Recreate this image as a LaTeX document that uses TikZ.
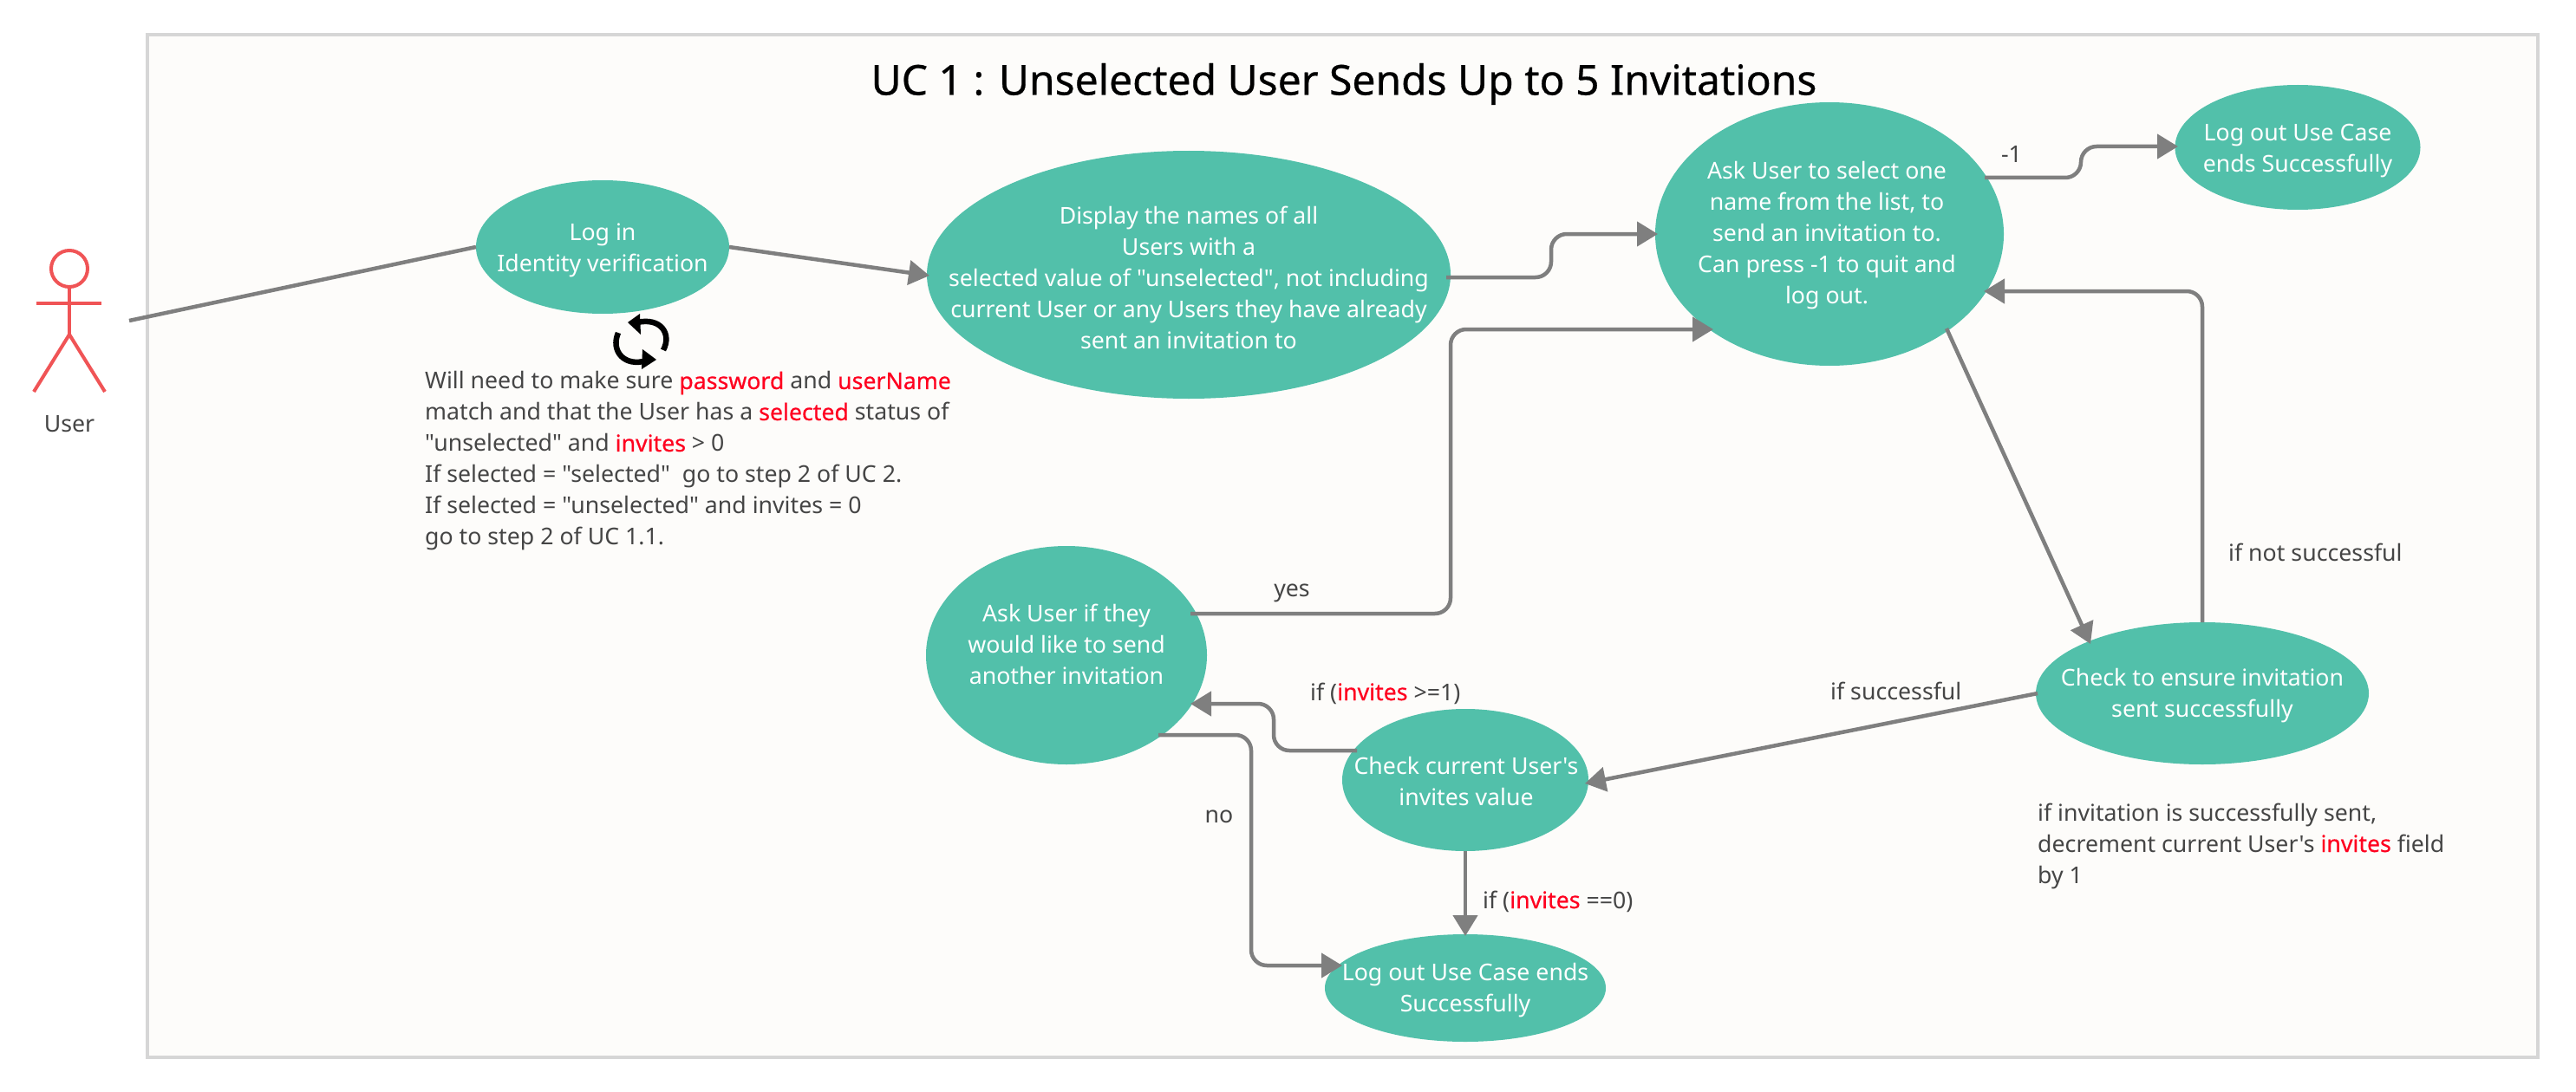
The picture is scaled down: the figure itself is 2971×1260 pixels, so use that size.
\documentclass[tikz,border=0pt]{standalone}
\usepackage{fontspec}
\usepackage{xcolor}
\setmainfont{Noto Sans}[Ligatures=TeXOff]
\newfontfamily\heavyfont{Noto Sans}[Ligatures=TeXOff,FakeBold=0.5]
\usetikzlibrary{shapes.geometric,arrows.meta,calc}
\definecolor{teal0}{HTML}{52C0AA}
\definecolor{wire}{HTML}{7F7F7F}
\definecolor{ink}{HTML}{454545}
\definecolor{alert}{HTML}{FF001F}
\definecolor{actor}{HTML}{F05456}
\definecolor{frame0}{HTML}{D6D6D6}
\definecolor{paper}{HTML}{FDFCFA}
\newcommand{\rd}[1]{\textcolor{alert}{\heavyfont #1}}
\tikzset{
  ell/.style={ellipse,fill=teal0,draw=none,inner sep=0pt,outer sep=0pt},
  elltext/.style={text=white,align=center,inner sep=0pt,font=\fontsize{26.7pt}{36pt}\selectfont},
  lbl/.style={text=ink,inner sep=0pt,font=\fontsize{26.7pt}{36pt}\selectfont},
  note/.style={text=ink,align=left,inner sep=0pt,anchor=west,font=\fontsize{26.7pt}{36pt}\selectfont},
  wireln/.style={draw=wire,line width=4.5pt},
  conn/.style={wireln,rounded corners=18pt,-{Triangle[length=24pt,width=28pt]}},
  straight/.style={wireln,-{Triangle[length=24pt,width=28pt]}},
  actorln/.style={draw=actor,line width=4pt},
}
\begin{document}
\begin{tikzpicture}[x=1pt,y=-1pt]
\useasboundingbox (0,0) rectangle (2971,1260);
\fill[white] (0,0) rectangle (2971,1260);
\draw[draw=frame0,fill=paper,line width=4pt] (170,40) rectangle (2927,1220);
\node[text=black,inner sep=0pt,font=\fontsize{48pt}{56pt}\selectfont\heavyfont] (title) at (1550,97) {UC 1 : Unselected User Sends Up to 5 Invitations};

% actor
\node[circle,draw=actor,line width=4pt,minimum size=42pt,inner sep=0pt] (head) at (80,310) {};
\coordinate (hip) at (80,386);
\coordinate (armL) at (42,350);
\coordinate (armR) at (117,350);
\coordinate (legL) at (39,452);
\coordinate (legR) at (121,452);
\coordinate (userend) at (149,370);
\draw[actorln] (head.south) -- (hip);
\draw[actorln] (armL) -- (armR);
\draw[actorln] (legL) -- (hip) -- (legR);
\node[lbl,anchor=base] (userlabel) at (80,498) {User};

% states
\node[ell,minimum width=292pt,minimum height=154pt] (login) at (695,285) {};
\node[elltext] (logintext) at (695,289) {Log in\\Identity verification};
\node[ell,minimum width=604pt,minimum height=286pt] (display) at (1371,317) {};
\node[elltext] (displaytext) at (1371,320) {Display the names of all\\Users with a\\selected value of "unselected", not including\\current User or any Users they have already\\sent an invitation to};
\node[ell,minimum width=402pt,minimum height=304pt] (select) at (2110,270) {};
\node[elltext] (selecttext) at (2107,272) {Ask User to select one\\name from the list, to\\send an invitation to.\\Can press -1 to quit and\\log out.};
\node[ell,minimum width=283pt,minimum height=144pt] (logouttop) at (2650,170) {};
\node[elltext] (logouttoptext) at (2650,174) {Log out Use Case\\ends Successfully};
\node[ell,minimum width=324pt,minimum height=252pt] (another) at (1230,756) {};
\node[elltext] (anothertext) at (1230,743) {Ask User if they\\would like to send\\another invitation};
\node[ell,minimum width=284pt,minimum height=164pt] (check) at (1690,900) {};
\node[elltext] (checktext) at (1691,901) {Check current User's\\invites value};
\node[ell,minimum width=324pt,minimum height=124pt] (logoutbot) at (1690,1140) {};
\node[elltext] (logoutbottext) at (1690,1143) {Log out Use Case ends\\Successfully};
\node[ell,minimum width=384pt,minimum height=164pt] (ensure) at (2540,800) {};
\node[elltext] (ensuretext) at (2540,803) {Check to ensure invitation\\sent successfully};

% connectors
\draw[wireln] (userend) -- ($(login.center)+(-146,0)$);
\draw[straight] ($(login.center)+(146,0)$) -- ($(display.center)+(-299,1)$);
\draw[conn] ($(display.center)+(297,3)$) -- ++(121,0) |- ($(select.center)+(-198,0)$);
\draw[conn] ($(select.center)+(179,-65)$) -- ++(111,0) |- ($(logouttop.center)+(-138,-1)$);
\draw[conn] ($(another.center)+(143,-48)$) -| (1673,540) |- ($(select.center)+(-134,110)$);
\draw[conn] ($(ensure.center)+(0,-82)$) |- ($(select.center)+(178,66)$);
\draw[straight] ($(select.center)+(135,109)$) -- ($(ensure.center)+(-129,-57)$);
\draw[straight] ($(ensure.center)+(-190,0)$) -- ($(check.center)+(138,4)$);
\draw[conn] ($(check.center)+(-125,-34)$) -- ++(-96,0) |- ($(another.center)+(143,56)$);
\draw[straight] (check.south) -- ($(logoutbot.center)+(0,-60)$);
\draw[conn] ($(another.center)+(106,92)$) -- ++(107,0) |- ($(logoutbot.center)+(-142,-26)$);

% labels
\node[lbl,anchor=base] (minusone) at (2320,188) {-1};
\node[lbl,anchor=base] (yeslabel) at (1490,688) {yes};
\node[lbl,anchor=base] (nolabel) at (1406,949) {no};
\node[lbl,anchor=base west] (gelabel) at (1511,808) {if (\rd{invites} >=1)};
\node[lbl,anchor=base west] (eqlabel) at (1710,1048) {if (\rd{invites} ==0)};
\node[lbl,anchor=base west] (oklabel) at (2111,807) {if successful};
\node[lbl,anchor=base west] (notoklabel) at (2570,647) {if not successful};

% notes
\node[note] (note1) at (490,532) {Will need to make sure \rd{password} and \rd{userName}\\match and that the User has a \rd{selected} status of\\"unselected" and \rd{invites} > 0\\If selected = "selected"\ \ go to step 2 of UC 2.\\If selected = "unselected" and invites = 0\\go to step 2 of UC 1.1.};
\node[note] (note2) at (2350,976) {if invitation is successfully sent,\\decrement current User's \rd{invites} field\\by 1};

% refresh icon
\draw[black,line width=6.5pt] (765,404) .. controls (775,385) and (762,366) .. (735,372);
\fill[black] (738,362) -- (724,372) -- (739,386) -- cycle;
\draw[black,line width=6.5pt] (713,384) .. controls (704,405) and (720,424) .. (746,416);
\fill[black] (741,403) -- (757,415) -- (740,426) -- cycle;
\end{tikzpicture}
\end{document}
